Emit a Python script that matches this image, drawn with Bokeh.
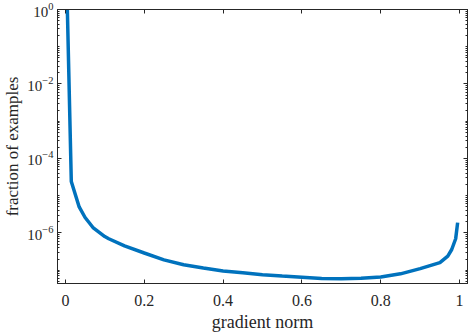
from bokeh.plotting import figure
from bokeh.models import FixedTicker, LogAxis, LinearAxis, Range1d, LogTickFormatter
from bokeh.embed import file_html
from bokeh.resources import INLINE

grad_norm = [0.005, 0.015, 0.025, 0.035, 0.05, 0.07, 0.1, 0.11, 0.15, 0.2, 0.25,
             0.3, 0.35, 0.4, 0.45, 0.5, 0.55, 0.6, 0.65, 0.7, 0.75, 0.8, 0.85,
             0.9, 0.95, 0.97, 0.98, 0.99, 0.995]
fraction = [1.0, 2.4e-5, 1.1e-5, 5e-6, 2.6e-6, 1.4e-6, 8e-7, 7e-7, 4.5e-7, 2.9e-7, 1.9e-7,
            1.4e-7, 1.15e-7, 9.5e-8, 8.5e-8, 7.6e-8, 7e-8, 6.5e-8, 6e-8, 5.9e-8, 6.1e-8, 6.6e-8, 8e-8,
            1.1e-7, 1.6e-7, 2.4e-7, 3.6e-7, 7e-7, 1.9e-6]
x_ticks = [0, 0.2, 0.4, 0.6, 0.8, 1]
y_ticks = [1e-6, 1e-4, 1e-2, 1]
y_minor = [k * 10.0 ** e for e in range(-8, 0) for k in range(1, 10)]

AX = "#262626"
FONT = "Liberation Serif"

p = figure(width=468, height=334, y_axis_type="log",
           x_range=Range1d(-0.02, 1.02), y_range=Range1d(4.4e-8, 1),
           output_backend="svg", toolbar_location=None,
           min_border_left=57, min_border_right=1, min_border_top=9, min_border_bottom=51)
p.grid.visible = False
p.outline_line_color = AX
p.background_fill_color = "white"
p.border_fill_color = "white"

p.line(grad_norm, fraction, line_color="#0072BD", line_width=3.5)

def style(ax):
    ax.axis_line_color = AX
    ax.major_tick_line_color = AX
    ax.minor_tick_line_color = AX
    ax.major_tick_in = 4
    ax.major_tick_out = 0
    ax.minor_tick_in = 2
    ax.minor_tick_out = 0
    ax.major_label_text_font = FONT
    ax.major_label_text_color = AX
    ax.axis_label_text_font = FONT
    ax.axis_label_text_font_style = "normal"
    ax.axis_label_text_color = AX

xa = p.xaxis[0]
xa.ticker = FixedTicker(ticks=x_ticks, minor_ticks=[])
xa.axis_label = "gradient norm"
xa.major_label_standoff = 11
xa.axis_label_standoff = 3
style(xa)
xa.major_label_text_font_size = "16px"
xa.axis_label_text_font_size = "18px"

ya = p.yaxis[0]
ya.ticker = FixedTicker(ticks=y_ticks, minor_ticks=y_minor)
ya.formatter = LogTickFormatter()
ya.axis_label = "fraction of examples"
ya.major_label_standoff = 4
ya.axis_label_standoff = 2
style(ya)
ya.major_label_text_font_size = "15px"
ya.axis_label_text_font_size = "17px"

# box ticks on right and top: no major ticks -> no labels, zero-size panels
def hidden(ax, ticks, length):
    ax.ticker = FixedTicker(ticks=[], minor_ticks=ticks)
    ax.axis_line_color = AX
    ax.minor_tick_line_color = AX
    ax.minor_tick_in = length
    ax.minor_tick_out = 0
    ax.major_tick_in = 0
    ax.major_tick_out = 0
    ax.major_label_standoff = 0
    ax.axis_label_standoff = 0

r_major = LogAxis()
hidden(r_major, y_ticks, 4)
p.add_layout(r_major, "right")
r_minor = LogAxis()
hidden(r_minor, y_minor, 2)
p.add_layout(r_minor, "right")
t_major = LinearAxis()
hidden(t_major, x_ticks, 4)
p.add_layout(t_major, "above")

open("out.html", "w").write(file_html(p, INLINE))
